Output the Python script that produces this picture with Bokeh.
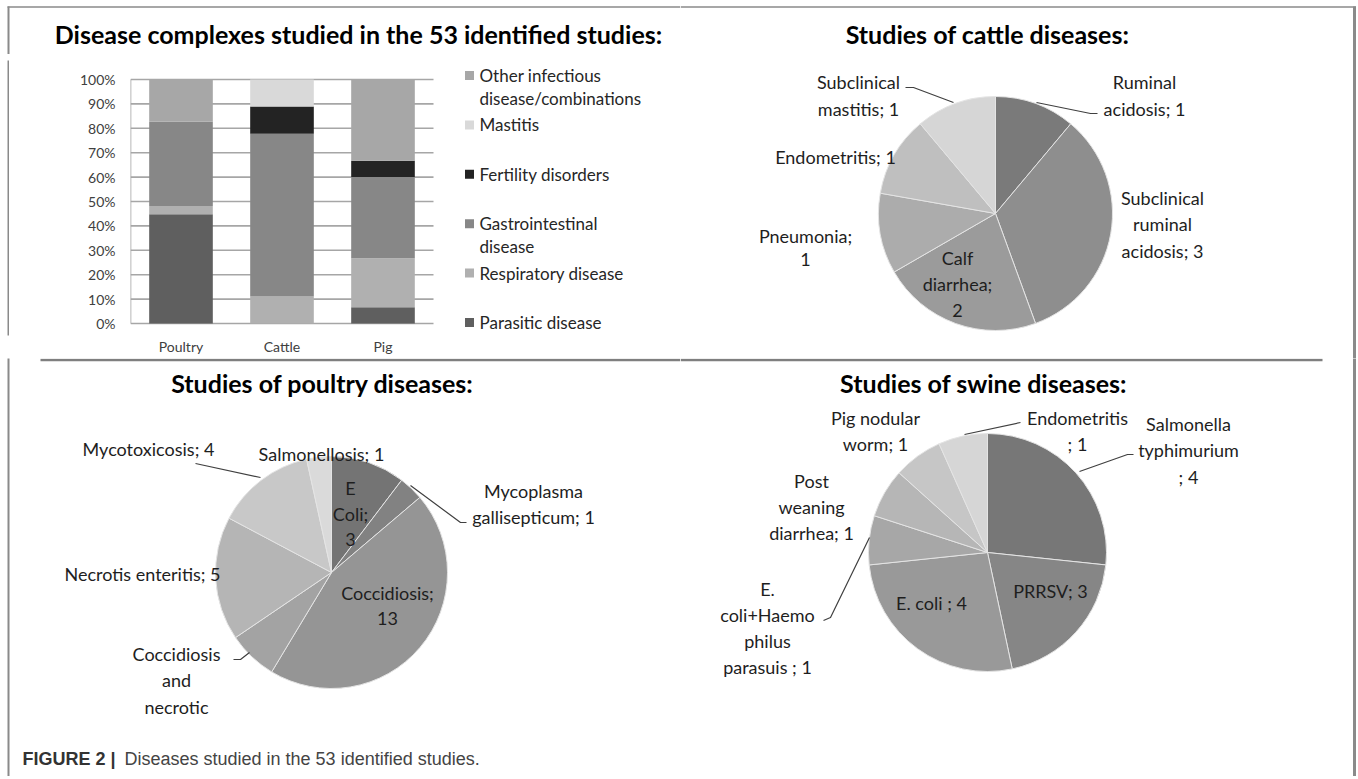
import numpy as np
from bokeh.plotting import figure
from bokeh.layouts import row, column
from bokeh.models import Range1d, FixedTicker, ColumnDataSource, PrintfTickFormatter
from bokeh.core.properties import value
from bokeh.embed import file_html
from bokeh.resources import INLINE

# ------------------------------------------------------------------ data
species = ["Poultry", "Cattle", "Pig"]
group_keys = ["parasitic", "respiratory", "gastro", "fertility", "mastitis", "other"]
parasitic_pct = [44.8, 0.0, 6.7]
respiratory_pct = [3.4, 11.1, 20.0]
gastro_pct = [34.5, 66.7, 33.3]
fertility_pct = [0.0, 11.1, 6.7]
mastitis_pct = [0.0, 11.1, 0.0]
other_pct = [17.3, 0.0, 33.3]
pct_ticks = [0, 10, 20, 30, 40, 50, 60, 70, 80, 90, 100]
legend_lines = [["Parasitic disease"], ["Respiratory disease"], ["Gastrointestinal", "disease"],
                ["Fertility disorders"], ["Mastitis"], ["Other infectious", "disease/combinations"]]

cattle_names = ["Ruminal acidosis", "Subclinical ruminal acidosis", "Calf diarrhea",
                "Pneumonia", "Endometritis", "Subclinical mastitis"]
cattle_counts = [1, 3, 2, 1, 1, 1]
cattle_label_lines = [["Ruminal", "acidosis; {n}"], ["Subclinical", "ruminal", "acidosis; {n}"],
                      ["Calf", "diarrhea;", "{n}"], ["Pneumonia;", "{n}"], ["Endometritis; {n}"],
                      ["Subclinical", "mastitis; {n}"]]

poultry_names = ["E Coli", "Mycoplasma gallisepticum", "Coccidiosis", "Coccidiosis and necrotic",
                 "Necrotis enteritis", "Mycotoxicosis", "Salmonellosis"]
poultry_counts = [3, 1, 13, 2, 5, 4, 1]
poultry_label_lines = [["E", "Coli;", "{n}"], ["Mycoplasma", "gallisepticum; {n}"], ["Coccidiosis;", "{n}"],
                       ["Coccidiosis", "and", "necrotic"], ["Necrotis enteritis; {n}"],
                       ["Mycotoxicosis; {n}"], ["Salmonellosis; {n}"]]

swine_names = ["Salmonella typhimurium", "PRRSV", "E. coli", "E. coli+Haemophilus parasuis",
               "Post weaning diarrhea", "Pig nodular worm", "Endometritis"]
swine_counts = [4, 3, 4, 1, 1, 1, 1]
swine_label_lines = [["Salmonella", "typhimurium", "; {n}"], ["PRRSV; {n}"], ["E. coli ; {n}"],
                     ["E.", "coli+Haemo", "philus", "parasuis ; {n}"], ["Post", "weaning", "diarrhea; {n}"],
                     ["Pig nodular", "worm; {n}"], ["Endometritis", "; {n}"]]

bar_title = "Disease complexes studied in the 53 identified studies:"
cattle_title = "Studies of cattle diseases:"
poultry_title = "Studies of poultry diseases:"
swine_title = "Studies of swine diseases:"
caption_bold = "FIGURE 2 |"
caption_text = "Diseases studied in the 53 identified studies."

# ------------------------------------------------------------------ styles
FONT = "Lato"
CAP_FONT = "Liberation Sans"
TITLE_SIZE = "25px"
LABEL_SIZE = "18px"
group_colors = ["#5f5f5f", "#b0b0b0", "#878787", "#232323", "#d9d9d9", "#a7a7a7"]
cattle_colors = ["#7a7a7a", "#8e8e8e", "#9b9b9b", "#acacac", "#bfbfbf", "#d6d6d6"]
poultry_colors = ["#747474", "#828282", "#959595", "#a3a3a3", "#b5b5b5", "#c8c8c8", "#dadada"]
swine_colors = ["#777777", "#868686", "#999999", "#a7a7a7", "#b6b6b6", "#c6c6c6", "#d6d6d6"]
FRAME = "#8a8a8a"
LEADER = "#404040"
LABEL_C = "#1e1e1e"

# ------------------------------------------------------------------ layout positions (page pixels)
BAR_ZERO_Y = 323.0
BAR_PX_PER_PCT = 2.44
BAR_FRAME_LEFT = 130.0
BAR_FRAME_TOP = 60.0
BAR_FRAME_BOTTOM = 335.0
BAR_PX_PER_CAT = 101.0

cattle_pie = (995, 213, 117)
poultry_pie = (331, 572, 116)
swine_pie = (987, 552, 119)

cattle_label_pos = [(1144, 81, 27), (1162, 197, 26.5), (957, 257, 26.5), (805, 235, 24), (835, 156, 26),
                    (858, 81, 27)]
poultry_label_pos = [(350, 487, 26), (533, 490, 26), (387, 592, 26), (176, 653, 26.5), (142, 573, 26),
                     (148, 448, 26), (321, 453, 26)]
swine_label_pos = [(1188, 423, 26.5), (1050, 590, 26), (931, 602, 26), (767, 588, 26), (811, 480, 26),
                   (875, 417, 26), (1077, 417, 26)]

cattle_leaders = [[(1036, 102), (1090, 113), (1097, 113)], [(905, 87), (913, 87), (953, 102)]]
poultry_leaders = [[(195, 463), (260, 477)], [(410, 485), (460, 522), (466, 522)],
                   [(233, 659), (240, 659), (249, 652)]]
swine_leaders = [[(1020, 422), (964, 434)], [(1133, 454), (1127, 454), (1079, 471)],
                 [(823, 620), (830, 617), (869, 537)]]


def canvas(x0, y0, w, h):
    p = figure(width=w, height=h, x_range=Range1d(x0, x0 + w), y_range=Range1d(-(y0 + h), -y0),
               x_axis_type=None, y_axis_type=None, min_border=0, output_backend="svg",
               toolbar_location=None)
    p.grid.visible = False
    p.outline_line_color = None
    p.background_fill_color = "white"
    p.border_fill_color = "white"
    return p


def put_text(p, xs, ys, texts, size, bold=False, color=LABEL_C, font=FONT, align="center"):
    p.text(x=list(xs), y=[-v for v in ys], text=list(texts), text_font=value(font),
           text_font_size=size, text_font_style="bold" if bold else "normal",
           text_align=align, text_baseline="middle", text_color=color)


def put_lines(p, paths, color=LEADER, width=1.2):
    p.multi_line(xs=[[a for a, b in path] for path in paths],
                 ys=[[-b for a, b in path] for path in paths], line_color=color, line_width=width)


def pie(p, centre, counts, colors, label_lines, label_pos, leaders):
    cx, cy, r = centre
    total = float(sum(counts))
    cum = np.cumsum([0] + list(counts))
    start = [np.pi / 2 - 2 * np.pi * c / total for c in cum[:-1]]
    end = [np.pi / 2 - 2 * np.pi * c / total for c in cum[1:]]
    src = ColumnDataSource(dict(start=start, end=end, color=colors))
    p.wedge(x=cx, y=-cy, radius=r, start_angle="start", end_angle="end", direction="clock",
            fill_color="color", line_color="#e4e4e4", line_width=1, source=src)
    put_lines(p, leaders)
    xs, ys, ts = [], [], []
    for n, lines, (lx, ly, dy) in zip(counts, label_lines, label_pos):
        for j, line in enumerate(lines):
            xs.append(lx)
            ys.append(ly + j * dy)
            ts.append(line.format(n=n))
    put_text(p, xs, ys, ts, LABEL_SIZE)


# ------------------------------------------------------------------ top-left: title strip
title_fig = canvas(0, 0, 680, 54)
put_text(title_fig, [358], [33], [bar_title], TITLE_SIZE, bold=True, color="black")
put_lines(title_fig, [[(8, 6), (8, 60)]], color=FRAME, width=2)
put_lines(title_fig, [[(7, 6.5), (680, 6.5)]], color=FRAME, width=1.5)

strip = canvas(0, 54, 9, 304)
put_lines(strip, [[(8, 40), (8, 370)]], color=FRAME, width=2)

# ------------------------------------------------------------------ stacked bar chart
x_end = (680 - BAR_FRAME_LEFT) / BAR_PX_PER_CAT
y_start = -(BAR_FRAME_BOTTOM - BAR_ZERO_Y) / BAR_PX_PER_PCT
y_end = (BAR_ZERO_Y - BAR_FRAME_TOP) / BAR_PX_PER_PCT
bar = figure(width=671, height=304, x_range=Range1d(0, x_end), y_range=Range1d(y_start, y_end),
             min_border_left=121, min_border_right=0, min_border_top=6, min_border_bottom=23,
             output_backend="svg", toolbar_location=None)
bar.grid.visible = False
bar.outline_line_color = None

x_pos = [i + 0.5 for i in range(len(species))]
src = ColumnDataSource(dict(x=x_pos, parasitic=parasitic_pct, respiratory=respiratory_pct,
                            gastro=gastro_pct, fertility=fertility_pct, mastitis=mastitis_pct,
                            other=other_pct))
bar.segment(x0=0, x1=len(species), y0=pct_ticks, y1=pct_ticks, line_color="#a6a6a6", line_width=1.6)
bar.segment(x0=[0], x1=[0], y0=[0], y1=[pct_ticks[-1]], line_color="#a6a6a6", line_width=1.6)
bar.vbar_stack(group_keys, x="x", width=0.63, color=group_colors, line_color=None, source=src)

bar.yaxis.ticker = FixedTicker(ticks=pct_ticks)
bar.yaxis.formatter = PrintfTickFormatter(format="%d%%")
bar.xaxis.ticker = FixedTicker(ticks=x_pos)
bar.xaxis.major_label_overrides = {x: s for x, s in zip(x_pos, species)}
for ax in (bar.xaxis, bar.yaxis):
    ax.axis_line_color = None
    ax.major_tick_line_color = None
    ax.minor_tick_line_color = None
    ax.major_tick_out = 0
    ax.major_tick_in = 0
    ax.minor_tick_out = 0
    ax.major_label_text_font = FONT
    ax.major_label_text_font_size = "14px"
    ax.major_label_text_color = "#404040"
bar.yaxis.major_label_standoff = 15
bar.xaxis.major_label_standoff = 2

# legend (evenly spaced entries, first line aligned with the swatch)
leg_x_sw = (469 - BAR_FRAME_LEFT) / BAR_PX_PER_CAT
leg_x_tx = (479 - BAR_FRAME_LEFT) / BAR_PX_PER_CAT
leg_first_y, leg_step, leg_line = 322.0, -49.4, 23.0
sw_y, tx_x, tx_y, tx_t = [], [], [], []
for i, lines in enumerate(legend_lines):
    py = leg_first_y + i * leg_step
    sw_y.append((BAR_ZERO_Y - py) / BAR_PX_PER_PCT)
    for j, line in enumerate(lines):
        tx_x.append(leg_x_tx)
        tx_y.append((BAR_ZERO_Y - (py + j * leg_line)) / BAR_PX_PER_PCT)
        tx_t.append(line)
bar.scatter(x=[leg_x_sw] * len(sw_y), y=sw_y, marker="square", size=9, fill_color=group_colors,
            line_color=None)
bar.text(x=tx_x, y=tx_y, text=tx_t, text_font=value(FONT), text_font_size="17px",
         text_baseline="middle", text_align="left", text_color="#262626")

# ------------------------------------------------------------------ cattle pie
cattle = canvas(680, 0, 676, 358)
put_text(cattle, [987], [33], [cattle_title], TITLE_SIZE, bold=True, color="black")
put_lines(cattle, [[(680, 6.5), (1356, 6.5)]], color=FRAME, width=1.5)
put_lines(cattle, [[(1354, 6), (1354, 358)]], color=FRAME, width=3)
pie(cattle, cattle_pie, cattle_counts, cattle_colors, cattle_label_lines, cattle_label_pos, cattle_leaders)

# ------------------------------------------------------------------ poultry pie
poultry = canvas(0, 358, 680, 418)
put_lines(poultry, [[(40, 359.5), (680, 359.5)]], color="#7f7f7f", width=2.5)
put_lines(poultry, [[(8, 350), (8, 790)]], color=FRAME, width=2)
put_text(poultry, [322], [382], [poultry_title], TITLE_SIZE, bold=True, color="black")
pie(poultry, poultry_pie, poultry_counts, poultry_colors, poultry_label_lines, poultry_label_pos,
    poultry_leaders)
put_text(poultry, [22], [758], [caption_bold], "18px", bold=True, color="#333333", font=CAP_FONT,
         align="left")
put_text(poultry, [124], [758], [caption_text], "18px", color="#444444", font=CAP_FONT, align="left")

# ------------------------------------------------------------------ swine pie
swine = canvas(680, 358, 676, 418)
put_lines(swine, [[(680, 359.5), (1322, 359.5)]], color="#7f7f7f", width=2.5)
put_lines(swine, [[(1354, 350), (1354, 790)]], color=FRAME, width=3)
put_text(swine, [983], [382], [swine_title], TITLE_SIZE, bold=True, color="black")
pie(swine, swine_pie, swine_counts, swine_colors, swine_label_lines, swine_label_pos, swine_leaders)

layout = column(row(column(title_fig, row(strip, bar)), cattle), row(poultry, swine))
open("out.html", "w").write(file_html(layout, INLINE))
